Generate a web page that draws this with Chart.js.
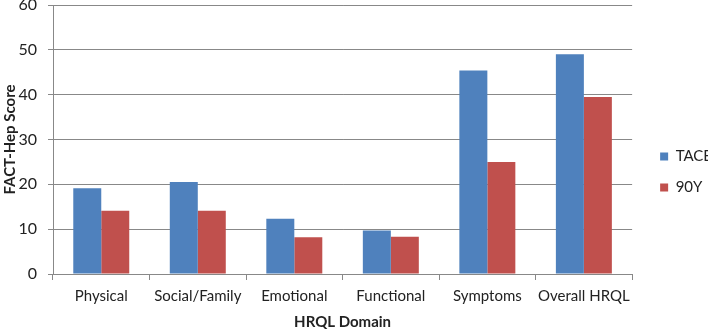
<!DOCTYPE html>
<html>
<head>
<meta charset="utf-8">
<script src="https://cdn.jsdelivr.net/npm/chart.js@4/dist/chart.umd.min.js"></script>
<style>
    html, body { margin: 0; padding: 0; background: #fff; }
    #wrap { width: 708px; height: 329px; }
</style>
</head>
<body>
<div id="wrap"><canvas id="chart"></canvas></div>
<script>
const domains = ["Physical", "Social/Family", "Emotional", "Functional", "Symptoms", "Overall HRQL"];
const taceScores = [19.1, 20.5, 12.3, 9.7, 45.4, 49.0];
const y90Scores = [14.1, 14.1, 8.2, 8.3, 25.0, 39.5];
const yTicks = [0, 10, 20, 30, 40, 50, 60];

const font = "Lato, 'Open Sans', sans-serif";
const textColor = "#222";

// nudge the legend a bit to the right and down, like the original
const legendNudge = {
    id: "legendNudge",
    afterLayout(chart) {
        const legend = chart.legend;
        if (!legend) return;
        legend.left += 12;
        legend.right += 12;
        legend.top += 5;
        legend.bottom += 5;
    },
};

const config = {
    type: "bar",
    data: {
        labels: domains,
        datasets: [
            {
                label: "TACE",
                data: taceScores,
                backgroundColor: "#4F81BD",
                barPercentage: 1,
                categoryPercentage: 0.58,
            },
            {
                label: "90Y",
                data: y90Scores,
                backgroundColor: "#C0504D",
                barPercentage: 1,
                categoryPercentage: 0.58,
            },
        ],
    },
    options: {
        responsive: true,
        maintainAspectRatio: false,
        animation: false,
        layout: { padding: { top: 5, right: -2, left: 1, bottom: 0 } },
        plugins: {
            tooltip: { enabled: false },
            legend: {
                position: "right",
                labels: {
                    boxWidth: 8,
                    boxHeight: 8,
                    padding: 16,
                    color: textColor,
                    font: { family: font, size: 15 },
                },
            },
        },
        scales: {
            x: {
                afterFit: (scale) => {
                    scale.height = 55;
                },
                grid: {
                    drawOnChartArea: false,
                    color: "#888",
                    tickLength: 6,
                },
                border: { color: "#888" },
                ticks: {
                    color: textColor,
                    font: { family: font, size: 15 },
                    padding: 7,
                    autoSkip: false,
                    minRotation: 0,
                    maxRotation: 0,
                },
                title: {
                    display: true,
                    text: "HRQL Domain",
                    color: textColor,
                    font: { family: font, size: 15, weight: "bold" },
                    padding: { top: 6, bottom: -2 },
                },
            },
            y: {
                min: 0,
                max: 60,
                afterBuildTicks: (axis) => {
                    axis.ticks = yTicks.map((v) => ({ value: v }));
                },
                afterFit: (scale) => {
                    scale.width = 52;
                    scale.paddingTop = 0;
                },
                grid: {
                    color: "#888",
                    tickLength: 5,
                },
                border: { color: "#888" },
                ticks: {
                    color: textColor,
                    font: { family: font, size: 16 },
                    padding: 11,
                },
                title: {
                    display: true,
                    text: "FACT-Hep Score",
                    color: textColor,
                    font: { family: font, size: 15, weight: "bold" },
                    padding: { top: 0, bottom: 0 },
                },
            },
        },
    },
    plugins: [legendNudge],
};

new Chart(document.getElementById("chart"), config);
</script>
</body>
</html>
